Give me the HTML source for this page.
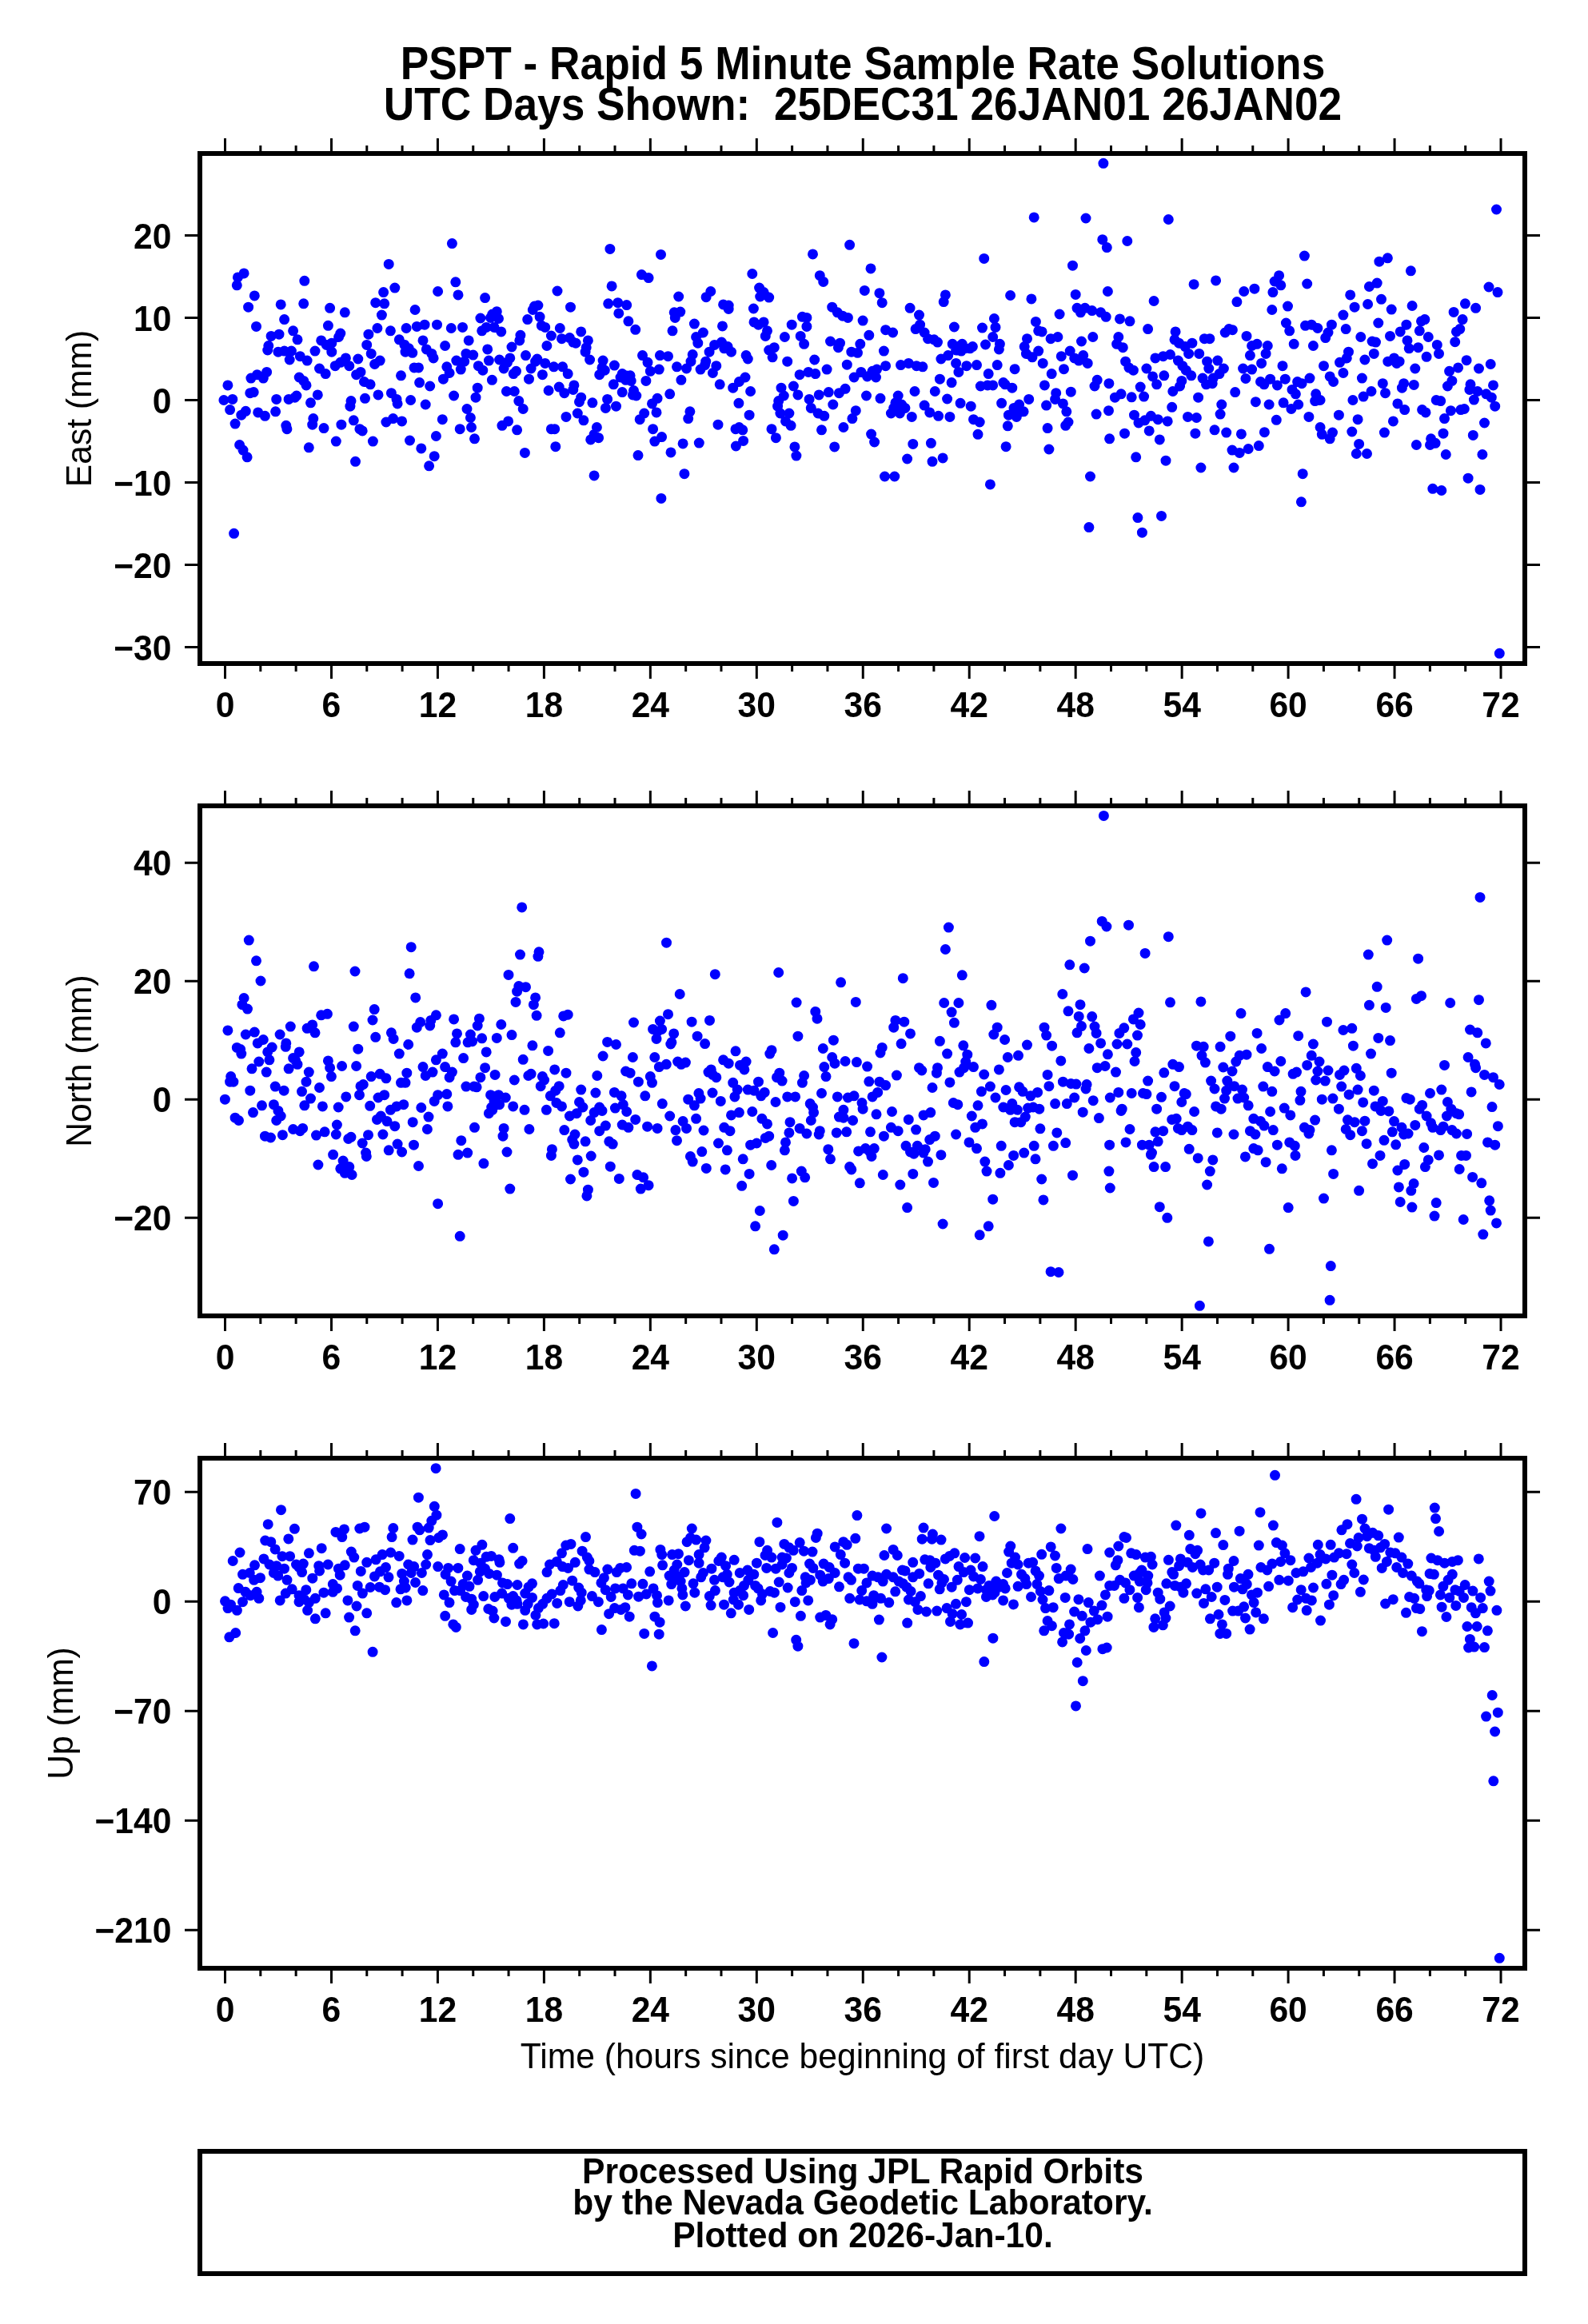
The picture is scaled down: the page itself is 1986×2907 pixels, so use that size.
<!DOCTYPE html><html><head><meta charset="utf-8"><style>html,body{margin:0;padding:0;background:#fff;width:1986px;height:2907px;overflow:hidden}svg{display:block;will-change:transform}text{font-family:"Liberation Sans",sans-serif;white-space:pre}</style></head><body>
<svg width="1986" height="2907" viewBox="0 0 1986 2907">
<rect width="1986" height="2907" fill="#fff"/>
<text transform="translate(1079 99.1) scale(1 1.075)" font-size="53.25" font-weight="bold" text-anchor="middle">PSPT - Rapid 5 Minute Sample Rate Solutions</text>
<text transform="translate(1079 150) scale(1 1.075)" font-size="53.25" font-weight="bold" text-anchor="middle">UTC Days Shown:  25DEC31 26JAN01 26JAN02</text>
<path d="M279.9 500.5h0M290.8 499.4h0M284.9 481.9h0M287.6 512.6h0M294.1 530.1h0M296.3 356.8h0M297.4 346.9h0M305.1 341.9h0M292.6 667.3h0M299.6 556.5h0M304.0 563.1h0M309.1 571.8h0M301.8 519.2h0M307.3 514.3h0M310.6 384.2h0M318.3 369.9h0M320.5 408.4h0M313.9 473.1h0M321.6 468.7h0M329.3 473.1h0M333.6 465.4h0M312.8 491.7h0M317.2 490.6h0M322.7 515.9h0M331.4 520.3h0M334.7 438.0h0M335.8 432.5h0M339.1 420.4h0M349.0 418.2h0M347.9 440.2h0M355.6 439.1h0M364.4 439.1h0M344.6 514.8h0M345.7 499.4h0M351.2 380.9h0M355.6 399.6h0M357.8 532.3h0M358.9 536.7h0M362.2 450.0h0M361.1 499.4h0M368.8 497.2h0M370.9 495.0h0M366.6 413.8h0M372.0 424.8h0M375.3 445.7h0M384.1 451.1h0M374.2 472.0h0M379.7 476.4h0M383.0 481.9h0M379.7 379.8h0M380.8 351.3h0M386.3 559.8h0M388.5 503.8h0M391.8 523.6h0M390.7 531.2h0M397.3 493.9h0M394.0 439.1h0M401.7 425.9h0M408.3 431.4h0M414.8 440.2h0M414.8 429.2h0M423.6 421.5h0M425.8 417.1h0M399.5 461.0h0M407.2 467.6h0M405.0 535.6h0M410.4 407.3h0M412.6 385.3h0M419.2 457.7h0M425.8 453.3h0M432.4 447.9h0M436.8 457.7h0M420.3 552.1h0M426.9 531.2h0M431.3 390.8h0M439.0 501.6h0M437.9 508.2h0M442.3 525.8h0M444.5 577.3h0M445.6 468.7h0M451.0 465.4h0M447.8 449.0h0M449.9 536.7h0M453.2 538.9h0M455.4 477.5h0M463.1 480.8h0M456.5 498.3h0M458.7 431.4h0M460.9 418.2h0M464.2 442.4h0M466.4 552.1h0M468.6 455.5h0M475.2 451.1h0M469.7 378.7h0M479.6 365.6h0M480.7 379.8h0M477.4 394.1h0M471.9 410.5h0M473.0 493.9h0M482.9 528.0h0M491.6 523.6h0M502.6 526.9h0M489.4 491.7h0M496.0 499.4h0M497.1 504.9h0M486.2 330.4h0M488.4 413.8h0M493.8 360.1h0M499.3 424.8h0M505.9 431.4h0M507.0 440.2h0M515.8 441.3h0M511.4 435.8h0M501.5 469.8h0M508.1 410.5h0M512.5 551.0h0M513.6 500.5h0M519.1 387.5h0M518.0 459.9h0M523.5 459.9h0M521.3 408.4h0M531.1 406.2h0M524.6 478.6h0M526.8 560.9h0M529.0 425.9h0M532.2 506.0h0M533.3 436.9h0M539.9 442.4h0M542.1 447.9h0M536.6 582.8h0M537.7 483.0h0M543.2 570.7h0M545.4 545.5h0M546.5 406.2h0M547.6 364.5h0M565.4 304.6h0M569.8 352.8h0M573.0 368.9h0M564.3 410.5h0M578.5 409.4h0M556.6 432.5h0M586.2 425.9h0M606.6 372.6h0M600.9 398.0h0M615.8 393.0h0M621.3 389.7h0M623.5 398.5h0M613.6 397.4h0M602.7 413.8h0M608.2 409.4h0M618.0 409.4h0M626.8 414.9h0M609.7 436.9h0M582.9 442.4h0M591.7 444.1h0M570.8 451.1h0M580.7 452.2h0M558.8 458.8h0M562.1 466.5h0M554.4 474.2h0M576.3 462.1h0M598.3 457.7h0M603.8 463.2h0M611.4 451.1h0M615.4 475.3h0M567.6 495.0h0M597.2 485.2h0M595.0 497.2h0M584.0 511.5h0M588.4 522.5h0M589.5 534.5h0M553.3 524.7h0M575.2 536.7h0M593.5 548.8h0M624.6 450.0h0M630.1 461.0h0M637.8 447.9h0M634.5 453.3h0M640.0 434.0h0M650.9 419.3h0M649.8 425.9h0M657.5 444.6h0M642.2 467.6h0M645.5 464.3h0M633.4 489.5h0M643.3 489.5h0M648.8 501.6h0M654.2 511.5h0M627.9 532.3h0M635.6 526.9h0M646.6 537.8h0M656.4 566.4h0M659.7 399.6h0M666.3 387.5h0M668.5 383.1h0M672.9 382.0h0M675.1 396.3h0M677.3 407.3h0M681.7 409.4h0M689.4 420.0h0M683.9 432.5h0M664.1 461.0h0M669.6 452.2h0M671.8 449.0h0M681.7 454.4h0M661.5 474.2h0M678.4 468.7h0M692.6 458.8h0M703.6 458.8h0M710.2 467.6h0M697.0 364.0h0M713.5 384.2h0M700.3 410.5h0M702.5 423.7h0M712.4 422.6h0M720.1 429.2h0M716.8 428.1h0M726.7 414.9h0M735.4 425.9h0M733.2 434.7h0M732.1 440.2h0M737.6 450.0h0M686.1 488.5h0M699.2 484.1h0M705.8 491.7h0M717.9 481.9h0M716.8 487.4h0M726.7 497.2h0M724.5 502.7h0M708.0 521.4h0M722.3 517.0h0M729.9 525.8h0M689.4 536.7h0M693.7 536.7h0M694.8 558.7h0M740.9 503.8h0M746.4 534.5h0M743.1 543.3h0M738.7 549.9h0M748.6 547.7h0M743.1 594.9h0M754.1 451.1h0M753.0 459.9h0M756.3 463.2h0M749.7 468.7h0M760.7 379.8h0M772.7 378.7h0M783.7 381.6h0M773.8 391.9h0M785.9 401.8h0M794.7 412.3h0M765.1 357.9h0M762.9 311.4h0M802.4 343.6h0M811.1 347.6h0M826.5 318.4h0M768.4 457.1h0M778.2 467.6h0M782.6 469.8h0M788.1 469.8h0M776.0 472.0h0M782.6 475.3h0M789.2 476.4h0M767.3 480.8h0M778.2 490.6h0M792.5 488.5h0M791.4 493.9h0M795.8 495.0h0M759.6 499.4h0M757.4 510.4h0M770.5 508.2h0M803.5 444.6h0M810.0 453.3h0M813.3 464.3h0M807.9 476.4h0M825.4 444.6h0M824.3 462.1h0M815.5 504.9h0M822.1 498.3h0M821.0 515.9h0M800.2 524.7h0M805.7 517.0h0M816.6 536.7h0M818.8 552.1h0M827.6 546.6h0M798.0 569.6h0M826.9 623.4h0M848.7 371.0h0M843.2 390.8h0M850.8 390.1h0M844.3 397.4h0M841.0 413.8h0M835.5 445.7h0M846.5 458.8h0M851.9 475.3h0M837.7 492.8h0M839.0 565.9h0M854.1 554.9h0M855.9 592.7h0M883.1 371.7h0M888.8 364.5h0M868.4 405.1h0M879.4 416.0h0M870.6 421.5h0M872.8 429.2h0M866.2 443.5h0M864.0 452.2h0M858.5 461.0h0M862.9 514.8h0M860.7 523.6h0M874.3 554.1h0M887.1 440.2h0M893.6 431.4h0M902.4 428.1h0M905.7 435.8h0M910.1 433.6h0M914.5 440.2h0M882.7 452.2h0M881.6 456.6h0M876.1 462.1h0M895.8 457.7h0M891.4 466.5h0M900.2 480.8h0M898.0 531.2h0M904.6 380.9h0M911.2 382.0h0M911.2 386.4h0M903.5 407.9h0M916.7 485.2h0M924.4 477.5h0M932.0 472.0h0M923.9 504.3h0M920.0 536.7h0M924.4 534.5h0M928.8 537.8h0M920.4 558.0h0M929.6 551.4h0M933.1 444.6h0M935.3 449.0h0M938.6 489.5h0M937.1 519.2h0M940.8 342.5h0M949.6 360.1h0M955.1 365.6h0M950.7 371.0h0M961.7 372.1h0M942.4 386.0h0M943.0 402.9h0M948.5 406.2h0M955.1 402.9h0M959.5 413.8h0M957.3 420.4h0M961.7 438.0h0M968.3 434.7h0M966.1 446.8h0M965.0 536.7h0M970.4 547.7h0M981.4 421.5h0M990.2 406.2h0M984.7 452.2h0M977.0 485.2h0M980.3 495.0h0M973.7 501.6h0M972.6 508.2h0M975.9 517.0h0M986.9 517.0h0M982.5 526.9h0M989.1 532.3h0M992.4 483.0h0M997.9 493.9h0M993.9 558.9h0M995.9 570.1h0M1003.4 396.3h0M1008.9 397.4h0M1008.9 408.4h0M1001.2 420.4h0M1005.6 430.3h0M1016.5 317.9h0M1025.3 344.7h0M1029.7 352.4h0M1018.7 450.0h0M1000.1 468.7h0M1011.0 465.4h0M1019.8 467.6h0M1012.1 499.4h0M1014.3 510.4h0M1023.1 517.0h0M1030.8 520.3h0M1024.2 493.9h0M1027.5 537.8h0M1034.1 462.1h0M1036.3 490.6h0M1041.8 506.0h0M1043.7 558.9h0M1040.7 384.2h0M1047.3 390.8h0M1053.8 395.2h0M1060.4 397.4h0M1038.5 427.0h0M1050.5 429.2h0M1048.4 434.7h0M1062.6 306.3h0M1089.0 335.9h0M1081.3 363.4h0M1099.9 366.7h0M1103.2 378.7h0M1079.1 401.1h0M1086.8 419.3h0M1075.8 430.3h0M1064.8 440.2h0M1072.5 441.3h0M1059.3 456.2h0M1068.1 472.0h0M1076.9 465.4h0M1084.6 470.9h0M1091.1 464.3h0M1096.6 462.1h0M1095.5 472.0h0M1049.4 491.7h0M1057.1 486.3h0M1070.3 513.7h0M1065.9 523.6h0M1054.9 534.5h0M1083.5 495.0h0M1101.0 498.3h0M1089.6 543.1h0M1093.6 553.0h0M1105.4 439.1h0M1107.6 412.7h0M1107.6 457.7h0M1106.5 596.0h0M1116.6 416.0h0M1114.4 517.0h0M1123.2 495.0h0M1119.9 503.8h0M1127.6 506.0h0M1131.9 510.4h0M1125.4 517.0h0M1117.7 510.4h0M1118.8 596.0h0M1138.1 385.3h0M1149.5 394.1h0M1150.6 406.2h0M1145.1 411.6h0M1156.1 416.0h0M1160.5 423.7h0M1168.2 424.8h0M1172.5 428.1h0M1126.5 456.6h0M1136.3 454.4h0M1146.2 457.7h0M1153.9 458.8h0M1144.0 489.5h0M1140.3 521.4h0M1156.1 507.1h0M1162.7 515.9h0M1173.6 520.3h0M1141.8 555.4h0M1134.6 574.0h0M1164.4 554.3h0M1166.0 577.3h0M1179.1 572.9h0M1182.4 368.9h0M1180.2 377.6h0M1193.4 409.0h0M1176.9 449.0h0M1185.7 444.6h0M1191.2 430.3h0M1197.8 433.6h0M1203.3 430.3h0M1206.6 435.8h0M1213.1 435.8h0M1216.4 433.6h0M1202.2 439.1h0M1195.6 438.0h0M1195.6 454.4h0M1198.9 465.4h0M1208.8 457.7h0M1175.4 474.2h0M1190.1 478.6h0M1169.3 489.5h0M1184.6 499.0h0M1187.9 521.4h0M1201.1 504.3h0M1214.2 508.2h0M1217.5 524.7h0M1225.2 528.0h0M1223.0 543.3h0M1221.5 456.6h0M1230.7 323.4h0M1228.5 410.1h0M1232.5 431.0h0M1241.7 421.5h0M1243.4 398.5h0M1245.0 409.4h0M1250.4 430.3h0M1249.4 436.9h0M1247.2 456.6h0M1236.2 467.6h0M1226.3 483.0h0M1235.1 481.9h0M1241.7 481.9h0M1254.8 478.6h0M1257.0 480.8h0M1265.8 485.2h0M1252.6 504.3h0M1263.6 369.5h0M1269.1 461.7h0M1268.0 510.4h0M1274.6 506.0h0M1280.1 514.8h0M1261.4 519.2h0M1271.3 521.4h0M1276.8 513.7h0M1260.3 532.8h0M1258.1 558.7h0M1238.4 605.9h0M1289.9 373.9h0M1293.2 271.9h0M1295.4 402.4h0M1298.7 413.8h0M1303.1 414.9h0M1284.5 423.7h0M1281.2 433.6h0M1283.4 442.4h0M1291.0 446.8h0M1298.7 439.1h0M1304.2 454.4h0M1286.7 499.4h0M1306.4 481.9h0M1315.2 467.6h0M1314.1 423.7h0M1322.9 421.5h0M1325.1 393.0h0M1327.3 445.7h0M1330.5 461.7h0M1308.6 507.1h0M1319.6 499.4h0M1320.7 491.7h0M1329.4 504.9h0M1333.8 514.8h0M1332.7 532.3h0M1336.0 528.0h0M1310.1 535.6h0M1311.9 562.0h0M1339.3 490.2h0M1341.5 332.2h0M1358.0 273.0h0M1345.2 368.4h0M1347.0 385.3h0M1351.4 390.8h0M1356.9 385.3h0M1365.7 388.6h0M1376.6 390.8h0M1383.2 396.3h0M1352.5 427.0h0M1366.8 421.5h0M1338.2 439.1h0M1343.7 447.9h0M1349.2 451.1h0M1354.7 444.6h0M1360.2 454.4h0M1369.0 483.0h0M1372.2 475.3h0M1371.1 518.1h0M1363.5 596.0h0M1361.9 659.6h0M1379.9 204.3h0M1378.8 299.7h0M1384.3 309.6h0M1385.4 364.5h0M1386.9 479.7h0M1386.5 513.7h0M1387.6 548.8h0M1409.8 301.5h0M1461.3 274.5h0M1443.1 376.5h0M1400.5 398.9h0M1413.0 401.8h0M1435.6 411.6h0M1398.8 421.5h0M1396.6 430.3h0M1404.3 434.7h0M1407.6 452.2h0M1411.9 459.9h0M1417.4 463.2h0M1433.9 461.0h0M1441.6 470.9h0M1446.6 480.8h0M1394.4 497.2h0M1402.1 492.8h0M1415.2 496.8h0M1426.2 484.1h0M1430.6 496.1h0M1418.5 519.2h0M1424.0 529.0h0M1431.7 525.8h0M1439.4 520.3h0M1448.2 524.7h0M1460.2 526.9h0M1406.5 542.2h0M1437.2 538.9h0M1450.3 549.9h0M1420.7 571.8h0M1458.0 576.2h0M1422.9 647.6h0M1428.4 666.2h0M1452.5 645.4h0M1444.9 447.9h0M1454.7 445.7h0M1463.5 443.5h0M1455.8 469.8h0M1470.1 414.9h0M1469.0 424.8h0M1474.5 429.2h0M1482.2 433.6h0M1490.9 429.2h0M1486.6 442.4h0M1473.4 451.1h0M1478.9 457.7h0M1483.3 463.2h0M1489.8 469.8h0M1477.8 476.4h0M1475.6 483.0h0M1466.8 489.5h0M1465.7 509.3h0M1485.5 521.4h0M1496.4 522.5h0M1494.9 542.2h0M1501.9 585.0h0M1493.1 355.7h0M1498.6 497.2h0M1499.7 442.4h0M1506.3 423.7h0M1512.9 423.7h0M1509.6 452.2h0M1511.8 461.0h0M1522.8 451.1h0M1530.4 461.0h0M1525.0 467.6h0M1517.3 473.1h0M1504.1 473.1h0M1508.5 480.8h0M1516.2 479.7h0M1520.6 350.9h0M1532.2 416.0h0M1537.0 411.6h0M1541.4 412.7h0M1527.8 506.0h0M1526.1 518.1h0M1519.0 537.8h0M1533.7 541.1h0M1541.0 563.1h0M1550.2 566.4h0M1561.2 561.5h0M1574.3 557.6h0M1543.0 585.0h0M1544.7 490.6h0M1546.9 377.6h0M1555.7 364.5h0M1568.9 361.2h0M1559.0 420.4h0M1565.6 432.5h0M1572.1 430.3h0M1563.4 444.6h0M1554.6 461.0h0M1565.6 462.1h0M1557.9 473.5h0M1552.4 542.9h0M1577.6 454.4h0M1585.3 432.5h0M1583.1 442.4h0M1576.5 477.5h0M1580.9 480.8h0M1588.6 474.2h0M1570.4 502.7h0M1587.1 506.0h0M1581.4 540.7h0M1596.3 525.3h0M1590.8 387.5h0M1591.9 365.6h0M1594.1 352.0h0M1599.6 344.7h0M1601.8 356.8h0M1610.5 383.1h0M1608.4 404.0h0M1612.7 413.8h0M1618.2 430.3h0M1604.0 457.7h0M1607.3 474.2h0M1597.4 481.9h0M1605.1 503.8h0M1616.0 487.4h0M1620.4 492.8h0M1622.6 477.5h0M1628.1 479.7h0M1614.9 511.5h0M1623.7 506.0h0M1631.4 320.1h0M1634.7 355.0h0M1632.5 407.3h0M1640.2 406.2h0M1647.9 410.5h0M1642.4 432.5h0M1638.0 473.1h0M1645.7 492.8h0M1644.6 501.6h0M1651.1 500.5h0M1636.9 521.4h0M1629.2 592.7h0M1627.4 627.8h0M1655.5 457.7h0M1657.7 422.6h0M1661.0 416.0h0M1665.4 406.2h0M1663.2 470.9h0M1667.6 477.5h0M1651.1 534.5h0M1653.3 543.3h0M1663.2 548.8h0M1666.5 541.1h0M1674.4 519.2h0M1675.5 453.3h0M1679.9 394.1h0M1683.2 411.6h0M1688.7 368.9h0M1694.1 384.2h0M1686.5 440.2h0M1684.3 447.9h0M1679.9 466.5h0M1701.8 421.5h0M1703.4 473.1h0M1706.9 450.0h0M1691.9 500.5h0M1705.1 496.1h0M1715.0 489.5h0M1698.1 524.7h0M1690.8 540.0h0M1699.6 555.4h0M1696.3 567.5h0M1709.5 567.5h0M1712.4 358.5h0M1722.2 354.1h0M1724.9 327.2h0M1735.4 322.8h0M1710.6 380.5h0M1727.5 374.3h0M1723.8 404.0h0M1716.1 427.0h0M1720.5 428.1h0M1718.3 442.4h0M1729.3 479.7h0M1732.5 491.7h0M1731.4 541.1h0M1740.2 387.1h0M1738.5 420.4h0M1735.8 452.2h0M1743.5 447.9h0M1746.8 454.4h0M1750.1 452.2h0M1742.4 526.9h0M1747.9 504.9h0M1753.4 485.2h0M1755.6 479.7h0M1756.7 512.6h0M1751.2 414.9h0M1758.9 406.2h0M1760.0 425.9h0M1762.2 435.8h0M1773.6 434.7h0M1764.4 338.8h0M1766.1 382.5h0M1775.3 413.8h0M1777.5 401.8h0M1781.9 399.6h0M1786.3 421.5h0M1769.8 461.0h0M1768.3 481.4h0M1778.6 512.6h0M1783.0 515.9h0M1771.4 556.5h0M1784.1 446.3h0M1797.3 431.4h0M1799.5 442.4h0M1789.6 548.8h0M1788.5 556.5h0M1795.1 554.3h0M1796.2 500.5h0M1801.7 501.6h0M1791.8 611.3h0M1802.8 613.5h0M1806.5 523.6h0M1805.0 542.2h0M1808.3 568.5h0M1810.4 483.0h0M1815.9 476.4h0M1812.6 464.3h0M1814.4 513.7h0M1818.1 390.4h0M1819.7 427.7h0M1821.4 414.9h0M1825.8 411.6h0M1829.1 399.6h0M1832.4 379.8h0M1845.6 385.3h0M1823.6 459.9h0M1834.1 450.7h0M1826.9 512.6h0M1831.3 511.5h0M1842.3 544.4h0M1836.1 598.2h0M1851.0 612.4h0M1839.0 480.8h0M1837.9 487.4h0M1847.8 489.5h0M1843.4 500.1h0M1849.5 461.0h0M1856.5 529.0h0M1853.9 568.5h0M1862.0 359.0h0M1873.0 365.6h0M1871.5 262.0h0M1864.2 455.5h0M1867.5 481.9h0M1858.7 492.8h0M1865.3 497.2h0M1869.7 508.2h0M1875.3 817.3h0" stroke="#0000ff" stroke-width="13" stroke-linecap="round" fill="none"/>
<path d="M281.50 189v-16M281.50 833v16M325.82 189v-7M325.82 833v7M370.14 189v-7M370.14 833v7M414.46 189v-16M414.46 833v16M458.78 189v-7M458.78 833v7M503.10 189v-7M503.10 833v7M547.42 189v-16M547.42 833v16M591.74 189v-7M591.74 833v7M636.06 189v-7M636.06 833v7M680.38 189v-16M680.38 833v16M724.70 189v-7M724.70 833v7M769.02 189v-7M769.02 833v7M813.34 189v-16M813.34 833v16M857.66 189v-7M857.66 833v7M901.98 189v-7M901.98 833v7M946.30 189v-16M946.30 833v16M990.62 189v-7M990.62 833v7M1034.94 189v-7M1034.94 833v7M1079.26 189v-16M1079.26 833v16M1123.58 189v-7M1123.58 833v7M1167.90 189v-7M1167.90 833v7M1212.22 189v-16M1212.22 833v16M1256.54 189v-7M1256.54 833v7M1300.86 189v-7M1300.86 833v7M1345.18 189v-16M1345.18 833v16M1389.50 189v-7M1389.50 833v7M1433.82 189v-7M1433.82 833v7M1478.14 189v-16M1478.14 833v16M1522.46 189v-7M1522.46 833v7M1566.78 189v-7M1566.78 833v7M1611.10 189v-16M1611.10 833v16M1655.42 189v-7M1655.42 833v7M1699.74 189v-7M1699.74 833v7M1744.06 189v-16M1744.06 833v16M1788.38 189v-7M1788.38 833v7M1832.70 189v-7M1832.70 833v7M1877.02 189v-16M1877.02 833v16M247 294.46h-16M1910 294.46h16M247 397.48h-16M1910 397.48h16M247 500.50h-16M1910 500.50h16M247 603.52h-16M1910 603.52h16M247 706.54h-16M1910 706.54h16M247 809.56h-16M1910 809.56h16" stroke="#000" stroke-width="3" fill="none"/>
<rect x="250" y="192" width="1657" height="638" fill="none" stroke="#000" stroke-width="6"/>
<text transform="translate(214.4 310.5) scale(1 1.05)" font-size="42.6" font-weight="bold" text-anchor="end">20</text>
<text transform="translate(214.4 413.5) scale(1 1.05)" font-size="42.6" font-weight="bold" text-anchor="end">10</text>
<text transform="translate(214.4 516.5) scale(1 1.05)" font-size="42.6" font-weight="bold" text-anchor="end">0</text>
<text transform="translate(214.4 619.5) scale(1 1.05)" font-size="42.6" font-weight="bold" text-anchor="end">−10</text>
<text transform="translate(214.4 722.5) scale(1 1.05)" font-size="42.6" font-weight="bold" text-anchor="end">−20</text>
<text transform="translate(214.4 825.6) scale(1 1.05)" font-size="42.6" font-weight="bold" text-anchor="end">−30</text>
<text transform="translate(281.5 897) scale(1 1.05)" font-size="42.6" font-weight="bold" text-anchor="middle">0</text>
<text transform="translate(414.46 897) scale(1 1.05)" font-size="42.6" font-weight="bold" text-anchor="middle">6</text>
<text transform="translate(547.42 897) scale(1 1.05)" font-size="42.6" font-weight="bold" text-anchor="middle">12</text>
<text transform="translate(680.38 897) scale(1 1.05)" font-size="42.6" font-weight="bold" text-anchor="middle">18</text>
<text transform="translate(813.34 897) scale(1 1.05)" font-size="42.6" font-weight="bold" text-anchor="middle">24</text>
<text transform="translate(946.3 897) scale(1 1.05)" font-size="42.6" font-weight="bold" text-anchor="middle">30</text>
<text transform="translate(1079.26 897) scale(1 1.05)" font-size="42.6" font-weight="bold" text-anchor="middle">36</text>
<text transform="translate(1212.22 897) scale(1 1.05)" font-size="42.6" font-weight="bold" text-anchor="middle">42</text>
<text transform="translate(1345.18 897) scale(1 1.05)" font-size="42.6" font-weight="bold" text-anchor="middle">48</text>
<text transform="translate(1478.14 897) scale(1 1.05)" font-size="42.6" font-weight="bold" text-anchor="middle">54</text>
<text transform="translate(1611.1 897) scale(1 1.05)" font-size="42.6" font-weight="bold" text-anchor="middle">60</text>
<text transform="translate(1744.06 897) scale(1 1.05)" font-size="42.6" font-weight="bold" text-anchor="middle">66</text>
<text transform="translate(1877.02 897) scale(1 1.05)" font-size="42.6" font-weight="bold" text-anchor="middle">72</text>
<text transform="translate(114 511.0) rotate(-90) scale(1 1.03)" font-size="42.6" text-anchor="middle">East (mm)</text>
<path d="M311.3 1176.1h0M320.5 1201.8h0M326.0 1227.0h0M305.1 1248.5h0M302.9 1256.7h0M309.5 1262.1h0M284.9 1288.9h0M307.3 1294.0h0M318.3 1291.1h0M296.3 1310.4h0M300.7 1312.6h0M301.8 1318.1h0M322.2 1304.9h0M329.3 1300.5h0M334.7 1315.9h0M340.2 1310.0h0M336.9 1325.8h0M323.8 1328.0h0M315.0 1336.8h0M333.2 1341.1h0M288.7 1346.6h0M287.6 1353.2h0M291.9 1353.2h0M281.4 1375.2h0M312.8 1364.2h0M294.1 1398.2h0M298.5 1401.5h0M316.5 1391.6h0M327.5 1382.8h0M331.4 1421.2h0M338.5 1423.0h0M342.4 1381.7h0M347.9 1389.4h0M351.2 1396.0h0M345.7 1401.5h0M353.4 1419.7h0M344.2 1359.1h0M355.1 1364.2h0M350.1 1294.0h0M363.3 1284.1h0M357.8 1304.9h0M357.3 1309.3h0M361.1 1336.8h0M366.6 1323.6h0M374.2 1315.9h0M372.0 1331.3h0M369.8 1326.9h0M366.6 1412.5h0M378.6 1411.4h0M375.3 1414.7h0M377.5 1365.3h0M383.0 1353.2h0M386.3 1341.1h0M388.5 1374.1h0M380.8 1382.8h0M392.5 1208.8h0M384.1 1286.3h0M390.7 1281.9h0M394.0 1291.8h0M401.7 1269.8h0M409.4 1268.3h0M399.5 1360.5h0M403.4 1383.9h0M395.5 1420.1h0M406.1 1415.8h0M397.9 1457.0h0M410.4 1326.9h0M412.6 1335.7h0M414.4 1346.6h0M427.6 1333.5h0M423.2 1385.0h0M421.4 1407.0h0M420.3 1419.0h0M416.6 1444.3h0M429.1 1452.0h0M425.8 1461.8h0M431.3 1467.3h0M436.8 1459.6h0M440.1 1469.5h0M435.7 1424.5h0M439.0 1422.3h0M432.8 1371.9h0M444.0 1215.0h0M442.3 1284.1h0M447.8 1312.2h0M445.6 1333.5h0M464.2 1346.6h0M454.3 1356.5h0M451.0 1358.7h0M449.5 1369.7h0M453.2 1430.0h0M457.6 1442.1h0M458.3 1446.5h0M460.5 1419.7h0M462.7 1383.3h0M468.2 1262.6h0M466.0 1276.0h0M469.7 1297.3h0M475.2 1343.3h0M482.9 1348.8h0M473.0 1373.0h0M480.7 1369.7h0M471.5 1400.4h0M476.3 1396.0h0M484.0 1402.6h0M493.8 1408.7h0M478.9 1419.0h0M486.2 1438.8h0M497.1 1431.1h0M502.6 1441.0h0M489.4 1291.8h0M492.1 1299.4h0M499.3 1318.1h0M510.7 1306.5h0M508.8 1342.2h0M501.5 1354.3h0M507.0 1354.3h0M488.4 1388.3h0M496.0 1383.9h0M504.8 1381.7h0M516.2 1403.7h0M517.5 1432.2h0M523.5 1458.5h0M514.2 1184.7h0M512.1 1217.8h0M519.7 1247.9h0M521.3 1285.2h0M525.7 1278.6h0M537.7 1283.0h0M538.8 1276.4h0M545.4 1269.8h0M529.0 1334.6h0M532.2 1345.5h0M541.0 1341.1h0M526.8 1385.5h0M536.0 1397.1h0M534.4 1412.5h0M545.4 1325.8h0M543.2 1377.4h0M547.6 1369.7h0M547.6 1505.7h0M553.3 1318.1h0M556.6 1334.6h0M565.4 1341.1h0M562.1 1347.7h0M558.8 1368.6h0M559.9 1383.9h0M567.6 1274.9h0M571.5 1292.9h0M569.8 1303.8h0M588.4 1294.0h0M585.1 1303.8h0M590.6 1302.7h0M599.4 1274.2h0M597.2 1283.0h0M602.7 1298.8h0M608.2 1315.9h0M579.6 1323.6h0M606.6 1335.7h0M600.9 1347.7h0M582.9 1359.1h0M592.8 1359.1h0M596.1 1359.8h0M593.5 1410.3h0M576.8 1426.7h0M573.0 1444.3h0M584.7 1442.1h0M604.9 1455.3h0M575.2 1546.3h0M626.8 1281.5h0M621.3 1298.4h0M640.0 1294.6h0M619.1 1344.4h0M613.6 1369.7h0M623.5 1369.7h0M632.3 1373.0h0M618.0 1377.4h0M624.6 1381.7h0M614.7 1385.0h0M611.4 1392.7h0M615.8 1388.3h0M641.7 1383.9h0M630.1 1411.4h0M629.0 1421.2h0M634.0 1441.0h0M637.8 1487.1h0M652.7 1134.9h0M650.5 1194.1h0M674.0 1190.8h0M672.9 1196.3h0M636.0 1219.4h0M648.8 1233.6h0M657.5 1234.7h0M646.6 1240.2h0M645.0 1253.4h0M669.6 1247.9h0M667.4 1256.7h0M671.1 1270.3h0M665.9 1307.8h0M654.2 1325.3h0M643.3 1351.0h0M660.8 1345.5h0M664.1 1343.3h0M656.0 1388.3h0M661.9 1412.5h0M685.6 1314.4h0M678.4 1346.6h0M680.6 1351.0h0M676.2 1358.7h0M693.7 1337.9h0M708.0 1342.2h0M699.2 1358.7h0M694.8 1364.2h0M688.3 1370.8h0M695.9 1379.5h0M702.5 1383.9h0M683.4 1388.3h0M690.4 1437.7h0M689.4 1445.4h0M704.7 1270.9h0M710.2 1269.2h0M700.3 1291.8h0M726.7 1363.1h0M724.5 1378.5h0M728.9 1385.0h0M712.4 1396.0h0M721.2 1392.7h0M705.8 1413.6h0M719.0 1419.0h0M715.7 1425.6h0M717.9 1431.1h0M732.1 1427.8h0M722.3 1450.9h0M739.2 1446.0h0M729.9 1466.2h0M713.5 1475.0h0M735.4 1488.2h0M733.9 1495.9h0M754.1 1321.0h0M759.6 1303.4h0M770.5 1306.5h0M746.8 1345.5h0M744.9 1367.0h0M738.7 1401.5h0M743.1 1391.6h0M749.7 1385.0h0M753.0 1389.4h0M749.7 1414.7h0M757.4 1408.1h0M761.8 1427.8h0M766.2 1431.1h0M763.3 1459.2h0M774.3 1474.4h0M768.4 1366.4h0M777.1 1370.8h0M769.4 1386.1h0M779.3 1381.7h0M783.7 1390.5h0M778.2 1407.0h0M785.9 1410.3h0M794.7 1400.4h0M792.5 1279.0h0M791.4 1322.5h0M782.6 1340.0h0M788.1 1342.2h0M798.4 1353.2h0M796.9 1469.5h0M804.6 1472.8h0M811.1 1482.7h0M801.3 1487.1h0M809.6 1409.2h0M822.1 1411.4h0M806.8 1370.8h0M813.3 1346.6h0M815.5 1354.3h0M818.8 1322.5h0M824.3 1334.6h0M816.6 1287.4h0M822.1 1290.7h0M827.6 1287.4h0M821.0 1299.4h0M825.4 1277.1h0M828.3 1380.6h0M833.5 1179.2h0M835.5 1268.7h0M833.3 1331.3h0M850.2 1243.5h0M865.1 1278.2h0M887.5 1276.4h0M894.3 1218.7h0M842.7 1292.9h0M839.9 1303.8h0M838.8 1306.0h0M872.1 1296.2h0M881.6 1305.6h0M847.6 1328.0h0M851.9 1331.3h0M857.4 1329.1h0M837.7 1396.0h0M844.9 1413.6h0M846.5 1426.7h0M854.1 1402.6h0M858.5 1411.4h0M860.7 1375.2h0M868.4 1382.8h0M873.9 1367.5h0M876.1 1374.1h0M870.6 1399.3h0M880.0 1414.0h0M863.4 1446.5h0M866.2 1453.1h0M877.8 1440.6h0M883.3 1461.4h0M886.0 1341.1h0M889.3 1337.9h0M895.8 1347.7h0M891.4 1344.4h0M891.0 1367.0h0M901.3 1377.4h0M904.6 1325.8h0M911.2 1330.2h0M920.0 1314.8h0M925.5 1332.4h0M933.1 1328.0h0M930.9 1337.9h0M916.7 1354.3h0M922.2 1363.1h0M918.9 1371.9h0M935.3 1363.1h0M943.0 1364.2h0M948.5 1353.2h0M905.7 1410.3h0M913.0 1414.7h0M914.5 1394.9h0M924.4 1391.6h0M898.5 1430.0h0M909.4 1438.8h0M907.2 1462.9h0M929.2 1449.8h0M937.1 1468.4h0M927.7 1483.3h0M940.8 1390.5h0M952.9 1399.3h0M959.5 1405.9h0M938.6 1432.2h0M946.3 1430.0h0M957.3 1423.4h0M961.7 1421.2h0M951.8 1370.8h0M956.2 1366.4h0M973.7 1216.5h0M965.0 1313.7h0M962.8 1318.1h0M974.8 1342.2h0M971.5 1347.7h0M978.1 1352.1h0M970.0 1378.5h0M984.7 1371.9h0M994.6 1371.9h0M988.0 1403.7h0M986.9 1416.9h0M982.5 1428.9h0M981.4 1438.8h0M964.7 1457.5h0M990.6 1473.9h0M1002.3 1465.1h0M1006.7 1472.8h0M992.4 1502.4h0M950.3 1514.5h0M944.6 1533.8h0M979.2 1545.2h0M968.3 1562.8h0M996.1 1254.0h0M997.9 1296.2h0M1005.6 1345.5h0M1003.4 1354.3h0M1000.1 1411.4h0M1008.9 1418.0h0M1013.2 1380.6h0M1016.5 1385.0h0M1017.6 1391.6h0M1014.3 1401.5h0M1019.8 1265.4h0M1022.0 1274.2h0M1027.5 1367.5h0M1025.3 1414.7h0M1024.2 1419.0h0M1029.3 1311.5h0M1042.4 1301.2h0M1040.7 1322.5h0M1044.0 1330.2h0M1030.8 1334.6h0M1033.0 1346.6h0M1057.1 1327.5h0M1051.6 1228.8h0M1070.3 1253.4h0M1071.4 1328.6h0M1084.6 1334.1h0M1086.8 1352.8h0M1099.9 1353.2h0M1107.6 1357.6h0M1047.3 1371.9h0M1060.4 1373.0h0M1068.1 1370.8h0M1078.0 1379.5h0M1079.1 1387.2h0M1054.9 1388.3h0M1049.4 1397.1h0M1054.9 1398.2h0M1066.6 1401.5h0M1046.2 1416.9h0M1058.7 1415.8h0M1035.8 1437.7h0M1038.5 1449.8h0M1062.6 1459.6h0M1064.8 1462.9h0M1075.3 1479.8h0M1073.6 1439.9h0M1082.4 1436.6h0M1087.9 1441.0h0M1093.3 1436.6h0M1090.0 1446.5h0M1088.5 1415.8h0M1096.0 1393.8h0M1091.1 1371.9h0M1097.7 1366.4h0M1103.2 1310.4h0M1101.0 1317.0h0M1105.4 1421.2h0M1104.3 1469.5h0M1115.5 1390.5h0M1114.4 1410.3h0M1123.2 1414.7h0M1129.3 1223.7h0M1119.9 1276.4h0M1117.7 1285.2h0M1130.8 1278.2h0M1138.5 1292.9h0M1127.1 1305.6h0M1121.4 1345.1h0M1149.5 1335.7h0M1152.8 1339.0h0M1136.3 1400.4h0M1145.6 1413.1h0M1133.0 1433.3h0M1138.5 1441.0h0M1142.9 1443.2h0M1147.3 1433.3h0M1157.2 1437.7h0M1155.0 1442.1h0M1162.7 1425.6h0M1169.3 1421.2h0M1155.0 1394.9h0M1163.8 1391.6h0M1160.5 1453.1h0M1176.9 1444.7h0M1141.8 1468.4h0M1125.8 1482.0h0M1167.5 1479.4h0M1134.6 1510.6h0M1186.4 1160.1h0M1182.4 1187.5h0M1203.3 1219.8h0M1180.7 1254.5h0M1198.9 1254.5h0M1190.1 1266.1h0M1193.4 1279.3h0M1175.4 1302.3h0M1184.6 1318.1h0M1166.0 1360.5h0M1172.5 1335.7h0M1171.4 1342.2h0M1187.9 1353.9h0M1192.3 1379.5h0M1197.8 1381.7h0M1195.6 1419.0h0M1204.8 1307.8h0M1209.8 1319.2h0M1207.7 1328.0h0M1205.5 1335.7h0M1200.0 1341.1h0M1217.5 1334.6h0M1179.1 1531.0h0M1215.3 1396.0h0M1223.0 1382.8h0M1219.7 1410.3h0M1228.5 1405.9h0M1212.0 1428.9h0M1221.5 1436.6h0M1230.7 1344.0h0M1239.9 1257.3h0M1247.2 1285.2h0M1242.8 1294.0h0M1256.6 1300.5h0M1260.3 1322.5h0M1273.5 1320.3h0M1249.4 1337.9h0M1227.4 1365.3h0M1238.4 1359.1h0M1245.0 1373.0h0M1258.1 1363.5h0M1254.8 1385.0h0M1265.8 1380.6h0M1263.6 1388.3h0M1272.4 1388.3h0M1231.8 1453.1h0M1234.0 1465.1h0M1252.2 1433.3h0M1250.9 1467.3h0M1267.6 1445.4h0M1261.4 1457.5h0M1241.7 1500.2h0M1236.2 1533.8h0M1225.2 1544.8h0M1284.5 1307.1h0M1274.6 1359.8h0M1279.0 1365.3h0M1288.9 1370.8h0M1297.6 1366.4h0M1285.6 1386.1h0M1292.1 1385.0h0M1299.8 1387.2h0M1282.3 1397.1h0M1269.1 1403.7h0M1276.8 1403.7h0M1300.9 1411.8h0M1280.7 1442.1h0M1293.2 1433.3h0M1295.0 1449.8h0M1302.7 1475.0h0M1304.9 1500.9h0M1306.0 1285.2h0M1308.6 1295.1h0M1315.6 1308.2h0M1310.1 1344.4h0M1311.9 1358.7h0M1326.8 1326.9h0M1319.6 1380.6h0M1321.8 1416.9h0M1317.4 1433.3h0M1332.7 1429.6h0M1334.3 1380.6h0M1343.7 1373.0h0M1329.4 1353.2h0M1339.3 1355.4h0M1345.9 1356.1h0M1359.1 1356.5h0M1358.0 1362.0h0M1354.2 1391.2h0M1367.2 1376.7h0M1374.4 1398.6h0M1341.5 1470.2h0M1328.8 1243.5h0M1337.8 1206.8h0M1356.2 1211.0h0M1363.5 1177.2h0M1378.2 1152.4h0M1383.9 1159.0h0M1336.0 1264.8h0M1351.0 1256.7h0M1349.2 1271.4h0M1352.5 1283.6h0M1347.0 1291.8h0M1365.7 1271.6h0M1369.0 1284.1h0M1371.1 1292.4h0M1361.9 1311.5h0M1376.6 1304.9h0M1385.4 1318.8h0M1372.2 1335.7h0M1382.1 1333.5h0M1387.6 1432.2h0M1386.9 1465.1h0M1388.3 1373.0h0M1388.3 1486.0h0M1314.1 1590.7h0M1324.0 1591.5h0M1398.8 1366.4h0M1395.5 1341.1h0M1411.5 1157.2h0M1461.3 1171.7h0M1432.1 1192.4h0M1463.5 1253.8h0M1501.9 1252.9h0M1424.0 1267.0h0M1417.4 1274.9h0M1426.2 1281.5h0M1405.8 1285.8h0M1399.9 1292.4h0M1422.5 1295.1h0M1397.0 1306.0h0M1409.8 1306.0h0M1420.7 1316.6h0M1419.0 1327.5h0M1435.6 1352.1h0M1415.2 1367.5h0M1429.5 1367.5h0M1433.9 1368.6h0M1403.2 1387.2h0M1402.1 1389.4h0M1413.0 1412.5h0M1408.0 1428.9h0M1428.4 1432.2h0M1437.2 1432.2h0M1440.5 1442.1h0M1439.4 1444.3h0M1448.2 1427.8h0M1444.9 1415.8h0M1454.7 1414.7h0M1443.1 1459.6h0M1457.6 1459.6h0M1450.3 1509.7h0M1459.8 1523.3h0M1446.6 1387.2h0M1452.5 1372.3h0M1455.8 1341.8h0M1466.8 1331.3h0M1474.5 1334.6h0M1469.0 1358.7h0M1481.1 1367.5h0M1483.3 1368.6h0M1477.8 1378.5h0M1465.7 1400.4h0M1471.2 1399.3h0M1473.4 1411.4h0M1477.8 1413.6h0M1485.5 1409.2h0M1490.9 1413.6h0M1493.6 1390.5h0M1487.2 1437.3h0M1498.2 1448.7h0M1516.8 1450.9h0M1513.3 1465.1h0M1509.6 1482.0h0M1511.4 1552.9h0M1496.4 1308.2h0M1505.2 1309.3h0M1503.0 1320.3h0M1507.4 1329.1h0M1514.6 1352.1h0M1519.0 1362.0h0M1520.6 1383.9h0M1527.2 1387.2h0M1522.3 1416.9h0M1526.1 1309.3h0M1538.8 1296.2h0M1529.8 1335.0h0M1541.0 1340.0h0M1534.8 1352.1h0M1543.6 1358.7h0M1533.7 1364.2h0M1531.5 1374.1h0M1553.5 1363.1h0M1548.0 1374.1h0M1555.7 1373.0h0M1561.2 1382.8h0M1550.2 1320.3h0M1559.0 1319.2h0M1545.8 1328.0h0M1552.0 1267.6h0M1543.0 1419.0h0M1572.1 1292.4h0M1577.6 1311.5h0M1585.3 1334.6h0M1594.1 1340.0h0M1579.8 1359.1h0M1590.8 1365.3h0M1588.6 1390.5h0M1567.8 1399.3h0M1576.5 1402.6h0M1580.9 1408.1h0M1563.4 1414.7h0M1569.9 1419.0h0M1592.3 1413.6h0M1567.8 1436.6h0M1573.2 1438.8h0M1557.4 1446.9h0M1583.1 1453.7h0M1597.4 1432.2h0M1603.3 1461.8h0M1587.5 1562.3h0M1600.0 1276.0h0M1607.7 1267.6h0M1623.7 1295.7h0M1601.8 1327.5h0M1617.1 1343.3h0M1621.5 1341.1h0M1606.2 1386.1h0M1613.8 1394.9h0M1612.7 1428.9h0M1619.3 1433.3h0M1620.0 1445.4h0M1627.0 1365.3h0M1625.9 1376.3h0M1633.1 1240.9h0M1642.4 1306.0h0M1640.2 1320.3h0M1634.7 1332.4h0M1650.0 1328.0h0M1647.9 1340.0h0M1661.0 1339.0h0M1645.7 1351.0h0M1657.3 1352.1h0M1653.3 1375.2h0M1644.6 1401.1h0M1631.4 1410.3h0M1638.0 1413.6h0M1636.9 1418.0h0M1659.5 1278.2h0M1611.2 1510.6h0M1655.5 1499.1h0M1665.4 1438.8h0M1666.9 1374.1h0M1667.6 1468.4h0M1664.3 1583.6h0M1674.4 1387.2h0M1675.5 1344.4h0M1681.0 1339.0h0M1677.7 1359.1h0M1687.1 1369.2h0M1679.9 1288.5h0M1690.8 1286.3h0M1692.4 1308.2h0M1696.3 1336.3h0M1701.4 1345.5h0M1698.1 1363.1h0M1704.7 1378.9h0M1685.4 1400.8h0M1694.1 1403.7h0M1706.9 1402.2h0M1683.2 1412.5h0M1688.7 1419.7h0M1703.4 1414.7h0M1709.1 1430.7h0M1699.6 1489.3h0M1711.3 1194.1h0M1734.7 1176.1h0M1722.2 1234.3h0M1712.4 1257.3h0M1733.2 1260.4h0M1723.8 1298.4h0M1738.5 1301.6h0M1714.5 1318.1h0M1740.2 1342.2h0M1718.3 1364.2h0M1720.0 1383.9h0M1727.1 1389.4h0M1729.3 1377.4h0M1736.9 1389.9h0M1743.5 1402.6h0M1741.3 1415.8h0M1753.0 1410.3h0M1755.6 1419.0h0M1761.1 1418.0h0M1731.0 1426.3h0M1745.7 1431.8h0M1726.0 1445.4h0M1716.5 1455.7h0M1747.9 1464.0h0M1756.7 1456.4h0M1749.4 1484.9h0M1751.2 1503.5h0M1764.8 1489.3h0M1768.1 1480.5h0M1765.9 1510.1h0M1773.6 1199.2h0M1771.4 1249.4h0M1777.5 1245.7h0M1758.9 1373.6h0M1763.3 1375.2h0M1778.6 1382.4h0M1775.3 1387.2h0M1769.8 1407.4h0M1784.1 1396.0h0M1789.6 1404.8h0M1791.8 1410.3h0M1780.8 1435.5h0M1786.3 1450.9h0M1782.4 1459.6h0M1788.5 1367.5h0M1794.0 1521.1h0M1796.2 1504.6h0M1799.5 1444.9h0M1802.8 1363.1h0M1806.5 1332.4h0M1810.4 1378.5h0M1809.4 1396.0h0M1814.8 1387.2h0M1821.4 1392.7h0M1824.7 1393.8h0M1801.7 1413.6h0M1805.0 1409.2h0M1815.9 1413.6h0M1821.4 1418.0h0M1834.6 1418.4h0M1813.7 1254.5h0M1827.6 1445.4h0M1833.5 1445.4h0M1825.2 1462.5h0M1830.2 1525.5h0M1841.6 1472.4h0M1852.8 1479.8h0M1838.5 1288.0h0M1847.8 1291.8h0M1858.3 1304.9h0M1836.1 1322.5h0M1844.5 1331.3h0M1845.6 1335.7h0M1856.5 1344.4h0M1867.5 1347.7h0M1875.2 1356.5h0M1840.1 1365.9h0M1849.5 1250.7h0M1851.0 1122.4h0M1866.0 1384.6h0M1873.4 1408.7h0M1860.5 1428.9h0M1869.7 1432.2h0M1862.7 1501.8h0M1864.2 1514.1h0M1871.5 1529.9h0M1854.8 1544.1h0M1380.4 1020.4h0M1663.1 1626.3h0M1500.4 1633.3h0" stroke="#0000ff" stroke-width="13" stroke-linecap="round" fill="none"/>
<path d="M281.50 1005v-16M281.50 1649v16M325.82 1005v-7M325.82 1649v7M370.14 1005v-7M370.14 1649v7M414.46 1005v-16M414.46 1649v16M458.78 1005v-7M458.78 1649v7M503.10 1005v-7M503.10 1649v7M547.42 1005v-16M547.42 1649v16M591.74 1005v-7M591.74 1649v7M636.06 1005v-7M636.06 1649v7M680.38 1005v-16M680.38 1649v16M724.70 1005v-7M724.70 1649v7M769.02 1005v-7M769.02 1649v7M813.34 1005v-16M813.34 1649v16M857.66 1005v-7M857.66 1649v7M901.98 1005v-7M901.98 1649v7M946.30 1005v-16M946.30 1649v16M990.62 1005v-7M990.62 1649v7M1034.94 1005v-7M1034.94 1649v7M1079.26 1005v-16M1079.26 1649v16M1123.58 1005v-7M1123.58 1649v7M1167.90 1005v-7M1167.90 1649v7M1212.22 1005v-16M1212.22 1649v16M1256.54 1005v-7M1256.54 1649v7M1300.86 1005v-7M1300.86 1649v7M1345.18 1005v-16M1345.18 1649v16M1389.50 1005v-7M1389.50 1649v7M1433.82 1005v-7M1433.82 1649v7M1478.14 1005v-16M1478.14 1649v16M1522.46 1005v-7M1522.46 1649v7M1566.78 1005v-7M1566.78 1649v7M1611.10 1005v-16M1611.10 1649v16M1655.42 1005v-7M1655.42 1649v7M1699.74 1005v-7M1699.74 1649v7M1744.06 1005v-16M1744.06 1649v16M1788.38 1005v-7M1788.38 1649v7M1832.70 1005v-7M1832.70 1649v7M1877.02 1005v-16M1877.02 1649v16M247 1079.20h-16M1910 1079.20h16M247 1227.20h-16M1910 1227.20h16M247 1375.20h-16M1910 1375.20h16M247 1523.20h-16M1910 1523.20h16" stroke="#000" stroke-width="3" fill="none"/>
<rect x="250" y="1008" width="1657" height="638" fill="none" stroke="#000" stroke-width="6"/>
<text transform="translate(214.4 1095.2) scale(1 1.05)" font-size="42.6" font-weight="bold" text-anchor="end">40</text>
<text transform="translate(214.4 1243.2) scale(1 1.05)" font-size="42.6" font-weight="bold" text-anchor="end">20</text>
<text transform="translate(214.4 1391.2) scale(1 1.05)" font-size="42.6" font-weight="bold" text-anchor="end">0</text>
<text transform="translate(214.4 1539.2) scale(1 1.05)" font-size="42.6" font-weight="bold" text-anchor="end">−20</text>
<text transform="translate(281.5 1713) scale(1 1.05)" font-size="42.6" font-weight="bold" text-anchor="middle">0</text>
<text transform="translate(414.46 1713) scale(1 1.05)" font-size="42.6" font-weight="bold" text-anchor="middle">6</text>
<text transform="translate(547.42 1713) scale(1 1.05)" font-size="42.6" font-weight="bold" text-anchor="middle">12</text>
<text transform="translate(680.38 1713) scale(1 1.05)" font-size="42.6" font-weight="bold" text-anchor="middle">18</text>
<text transform="translate(813.34 1713) scale(1 1.05)" font-size="42.6" font-weight="bold" text-anchor="middle">24</text>
<text transform="translate(946.3 1713) scale(1 1.05)" font-size="42.6" font-weight="bold" text-anchor="middle">30</text>
<text transform="translate(1079.26 1713) scale(1 1.05)" font-size="42.6" font-weight="bold" text-anchor="middle">36</text>
<text transform="translate(1212.22 1713) scale(1 1.05)" font-size="42.6" font-weight="bold" text-anchor="middle">42</text>
<text transform="translate(1345.18 1713) scale(1 1.05)" font-size="42.6" font-weight="bold" text-anchor="middle">48</text>
<text transform="translate(1478.14 1713) scale(1 1.05)" font-size="42.6" font-weight="bold" text-anchor="middle">54</text>
<text transform="translate(1611.1 1713) scale(1 1.05)" font-size="42.6" font-weight="bold" text-anchor="middle">60</text>
<text transform="translate(1744.06 1713) scale(1 1.05)" font-size="42.6" font-weight="bold" text-anchor="middle">66</text>
<text transform="translate(1877.02 1713) scale(1 1.05)" font-size="42.6" font-weight="bold" text-anchor="middle">72</text>
<text transform="translate(114 1327.0) rotate(-90) scale(1 1.03)" font-size="42.6" text-anchor="middle">North (mm)</text>
<path d="M351.5 1888.7h0M335.2 1906.7h0M368.4 1912.3h0M360.8 1924.9h0M331.7 1927.0h0M338.8 1928.7h0M344.1 1937.9h0M300.0 1942.0h0M291.2 1952.5h0M352.9 1946.7h0M362.6 1946.7h0M386.4 1942.8h0M402.2 1936.7h0M318.5 1957.8h0M329.9 1949.9h0M337.0 1957.0h0M345.8 1958.7h0M355.5 1962.2h0M303.5 1969.3h0M312.3 1967.5h0M317.6 1976.3h0M325.5 1973.7h0M342.3 1967.5h0M347.6 1971.1h0M359.0 1976.3h0M370.5 1957.0h0M379.3 1956.1h0M377.6 1966.6h0M374.0 1960.5h0M398.7 1958.7h0M399.6 1964.9h0M410.2 1957.0h0M390.8 1974.2h0M298.2 1986.6h0M307.0 1991.3h0M313.2 1995.7h0M321.1 1991.3h0M323.8 1999.3h0M281.5 2002.8h0M288.5 2007.2h0M285.0 2011.6h0M296.4 2014.3h0M303.5 2003.7h0M350.2 2001.9h0M357.3 1993.1h0M365.2 1987.8h0M374.0 1995.7h0M382.8 1988.7h0M374.0 2003.7h0M380.2 2000.2h0M386.4 2004.6h0M394.3 1999.3h0M384.6 2014.3h0M394.3 2024.8h0M407.2 2017.8h0M404.9 1992.2h0M416.3 1981.6h0M421.6 1986.9h0M416.3 1991.3h0M425.2 1970.2h0M431.3 1957.8h0M423.4 1962.2h0M419.9 1916.4h0M430.5 1912.9h0M427.8 1922.6h0M449.8 1912.0h0M456.0 1910.2h0M439.3 1941.1h0M442.8 1948.1h0M451.3 1965.4h0M447.2 1983.4h0M453.4 1993.1h0M434.9 2001.9h0M446.0 2009.0h0M436.6 2023.1h0M458.7 2017.8h0M444.2 2039.8h0M466.1 2066.3h0M286.8 2047.8h0M294.7 2042.5h0M458.7 1954.3h0M470.1 1950.8h0M478.1 1944.6h0M488.6 1942.0h0M499.2 1946.4h0M463.1 1985.5h0M468.4 1971.9h0M475.4 1965.8h0M482.5 1960.5h0M486.0 1972.8h0M474.5 1985.2h0M481.6 1988.7h0M491.8 1911.5h0M490.1 1922.6h0M516.0 1926.1h0M523.4 1873.2h0M522.1 1910.2h0M524.8 1913.8h0M502.7 1968.4h0M510.7 1957.0h0M517.7 1959.6h0M514.2 1967.5h0M505.4 1978.1h0M501.0 1987.8h0M507.2 1986.0h0M519.5 1979.5h0M495.7 2004.6h0M508.9 2001.9h0M528.8 1989.6h0M534.5 1944.6h0M532.7 1957.0h0M527.4 1967.5h0M536.2 1911.1h0M539.8 1902.3h0M545.9 1895.2h0M538.0 1926.6h0M543.3 1884.3h0M545.1 1836.7h0M547.7 1959.6h0M548.6 1923.5h0M553.5 1919.9h0M560.6 1961.4h0M575.2 1937.6h0M572.9 1961.4h0M557.1 1969.3h0M564.1 1978.1h0M595.0 1939.3h0M602.9 1932.3h0M592.3 1951.7h0M601.1 1955.2h0M608.2 1947.3h0M614.4 1946.4h0M624.1 1950.8h0M624.9 1954.3h0M606.4 1962.2h0M600.3 1965.8h0M611.7 1968.4h0M621.4 1970.2h0M597.6 1976.3h0M584.4 1971.1h0M579.1 1981.6h0M587.0 1984.3h0M568.5 1989.6h0M575.6 1989.6h0M582.6 1997.5h0M589.7 2000.2h0M592.3 2007.2h0M589.7 2013.4h0M555.3 1994.9h0M562.0 2004.6h0M556.7 2021.3h0M566.8 2031.9h0M570.3 2035.4h0M604.7 1996.6h0M610.8 2012.5h0M616.1 2015.1h0M617.9 2024.0h0M618.8 1997.5h0M627.6 1993.1h0M636.4 1999.3h0M641.7 1996.6h0M646.1 2001.9h0M639.9 2007.2h0M647.0 2006.3h0M628.5 1979.9h0M634.6 1981.6h0M647.0 1982.5h0M632.5 2028.4h0M637.8 1899.6h0M641.7 1936.3h0M649.6 1956.1h0M653.1 1952.5h0M665.5 1980.8h0M661.1 1985.2h0M656.7 1993.1h0M665.5 1998.4h0M660.2 2006.3h0M656.7 2014.3h0M654.4 2031.9h0M669.9 2020.4h0M673.4 2011.6h0M678.7 2006.3h0M684.0 1999.3h0M690.2 1994.0h0M671.7 2031.9h0M679.6 2031.0h0M693.2 2030.7h0M696.7 2005.4h0M700.8 1989.6h0M704.3 1982.5h0M684.0 1966.6h0M687.5 1957.0h0M696.3 1953.4h0M703.4 1959.6h0M710.5 1961.4h0M702.5 1942.8h0M707.8 1933.1h0M714.0 1931.4h0M719.3 1954.3h0M715.7 1977.2h0M723.7 1986.0h0M727.2 1992.2h0M726.3 2001.9h0M712.2 2003.7h0M722.8 2009.0h0M728.1 1940.2h0M734.3 1948.1h0M736.9 1952.5h0M732.5 1922.6h0M736.9 1963.1h0M744.0 1966.6h0M740.4 1996.6h0M748.4 2003.7h0M751.9 1979.9h0M755.4 1973.7h0M757.2 1988.7h0M759.8 1963.1h0M771.3 1966.6h0M775.7 1961.4h0M783.6 1960.5h0M764.2 1997.5h0M769.5 1986.9h0M779.2 1986.9h0M785.4 1994.9h0M789.8 1980.8h0M761.6 2018.7h0M768.6 2011.6h0M776.6 2013.4h0M781.9 2010.7h0M787.2 2022.2h0M752.4 2038.6h0M795.1 1868.4h0M796.9 1910.2h0M802.1 1919.0h0M793.3 1939.3h0M800.4 1940.2h0M812.7 1965.8h0M803.9 1981.3h0M798.6 1997.2h0M808.3 1994.0h0M817.1 1986.9h0M821.5 1995.7h0M822.4 2004.6h0M818.9 2022.2h0M825.1 2029.2h0M805.7 2043.4h0M824.2 2044.2h0M815.4 2083.9h0M825.9 1938.4h0M827.7 1944.6h0M828.6 1957.8h0M836.2 2001.9h0M865.3 1912.0h0M859.1 1928.7h0M863.5 1923.5h0M870.6 1926.1h0M882.9 1927.0h0M881.1 1935.8h0M840.6 1944.6h0M848.5 1943.7h0M861.4 1951.7h0M874.1 1944.6h0M874.1 1955.2h0M846.8 1957.0h0M843.2 1964.0h0M856.1 1966.6h0M837.1 1971.1h0M839.7 1981.6h0M845.9 1971.1h0M851.2 1978.1h0M852.9 1986.9h0M853.8 1994.9h0M867.0 1980.8h0M868.8 1992.2h0M857.3 2009.0h0M879.4 1967.5h0M876.7 1972.8h0M889.9 1962.2h0M893.5 1976.3h0M898.8 1952.5h0M902.3 1948.1h0M907.6 1958.7h0M909.3 1969.3h0M904.1 1972.8h0M912.0 1979.0h0M918.2 1951.3h0M894.4 1989.6h0M887.3 1996.6h0M889.1 2008.1h0M905.5 2007.2h0M914.3 2017.8h0M925.2 1967.5h0M934.9 1964.0h0M942.8 1969.3h0M935.8 1976.3h0M930.5 1983.4h0M925.2 1989.6h0M918.2 1992.2h0M917.3 2001.0h0M929.6 1995.7h0M923.5 2007.2h0M936.7 2013.4h0M944.6 1983.4h0M948.1 1986.9h0M953.4 1994.0h0M951.7 2001.9h0M963.1 1990.5h0M968.4 1992.2h0M946.4 1955.2h0M949.9 1928.7h0M959.6 1939.3h0M957.0 1945.5h0M964.9 1948.1h0M958.7 1961.4h0M970.2 1962.2h0M978.1 1948.1h0M983.4 1949.0h0M978.1 1957.0h0M990.5 1961.4h0M986.9 1967.5h0M974.2 1979.0h0M985.2 1986.0h0M976.0 2010.4h0M966.6 2042.5h0M971.9 1904.4h0M980.8 1931.4h0M986.9 1935.8h0M992.2 1939.3h0M1000.2 1929.6h0M1005.4 1940.2h0M1016.0 1941.1h0M1022.2 1918.2h0M1020.4 1923.5h0M1012.5 1956.1h0M1016.9 1961.4h0M1007.2 1972.8h0M1013.4 1976.3h0M1008.1 1979.9h0M1002.8 1989.6h0M994.3 2003.7h0M1010.7 2001.9h0M1001.4 2021.3h0M995.7 2051.3h0M997.9 2059.2h0M1030.1 1956.1h0M1037.2 1960.5h0M1044.2 1967.5h0M1029.2 1978.1h0M1036.3 1974.6h0M1025.7 1970.2h0M1025.7 2023.1h0M1032.8 2020.4h0M1040.7 2025.7h0M1038.1 2031.9h0M1044.2 1934.9h0M1054.8 1928.7h0M1059.2 1932.3h0M1051.3 1944.6h0M1056.6 1955.2h0M1049.5 1984.8h0M1061.0 1972.8h0M1064.5 1976.3h0M1069.8 1924.3h0M1071.9 1895.6h0M1068.0 2055.7h0M1073.3 1962.2h0M1080.4 1962.2h0M1083.9 1979.9h0M1091.0 1971.1h0M1098.0 1972.8h0M1104.2 1978.1h0M1077.7 1989.6h0M1062.7 1999.3h0M1075.1 2001.0h0M1083.9 2002.8h0M1092.7 1995.7h0M1101.5 1999.3h0M1091.0 2006.3h0M1099.4 2026.1h0M1102.9 2073.0h0M1105.9 1945.5h0M1108.6 1912.0h0M1108.6 1969.3h0M1111.8 2004.6h0M1117.1 1938.4h0M1122.3 1945.5h0M1128.5 1964.0h0M1132.0 1964.9h0M1141.7 1954.3h0M1117.1 1972.8h0M1124.1 1978.1h0M1129.4 1980.8h0M1133.8 1985.2h0M1139.1 1990.5h0M1119.7 1990.8h0M1136.4 2001.0h0M1144.4 2003.7h0M1151.4 1996.6h0M1147.9 2013.4h0M1134.7 2030.1h0M1155.0 1911.1h0M1153.2 1925.2h0M1166.4 1919.0h0M1165.5 1925.2h0M1177.0 1926.1h0M1156.7 1950.8h0M1162.9 1951.7h0M1169.9 1955.2h0M1163.8 1960.5h0M1141.7 1972.8h0M1149.7 1968.4h0M1161.1 1980.8h0M1173.5 1970.2h0M1180.5 1975.5h0M1177.9 1979.9h0M1175.2 1987.8h0M1182.3 1949.9h0M1187.6 1946.4h0M1193.8 1942.8h0M1158.5 2016.0h0M1171.7 2015.1h0M1184.1 2011.6h0M1191.1 2018.7h0M1188.5 2028.4h0M1195.5 2006.3h0M1208.4 2003.7h0M1202.6 2019.5h0M1200.8 2031.9h0M1210.5 2030.1h0M1199.0 1959.6h0M1205.2 1966.6h0M1197.3 1976.3h0M1190.2 1985.2h0M1206.6 1948.5h0M1219.7 1949.0h0M1214.0 1964.0h0M1217.6 1971.9h0M1226.4 1975.5h0M1212.3 1988.7h0M1222.8 1986.9h0M1229.0 1959.6h0M1225.0 1921.7h0M1243.7 1896.5h0M1233.4 1988.7h0M1237.0 1983.4h0M1233.4 1997.5h0M1241.4 1994.9h0M1245.8 1978.1h0M1249.3 1985.2h0M1254.6 1981.6h0M1257.2 1986.9h0M1254.6 2001.9h0M1244.0 1992.2h0M1241.9 2049.2h0M1230.8 2078.6h0M1267.5 2006.9h0M1259.5 1967.5h0M1263.8 1934.0h0M1261.6 1941.1h0M1269.6 1948.1h0M1265.2 1955.2h0M1273.1 1957.0h0M1277.5 1969.3h0M1273.1 1984.3h0M1283.7 1981.6h0M1281.9 1974.6h0M1286.3 1955.2h0M1291.6 1954.3h0M1295.1 1964.9h0M1299.5 1971.1h0M1296.9 1981.6h0M1301.3 1990.5h0M1311.9 1989.6h0M1289.5 1997.5h0M1304.0 2001.0h0M1307.5 2011.6h0M1317.2 2010.7h0M1310.1 2027.5h0M1315.4 2033.7h0M1305.7 2039.8h0M1302.7 1944.3h0M1314.2 1934.9h0M1319.5 1946.0h0M1326.9 1912.0h0M1321.2 1961.4h0M1324.2 1974.6h0M1333.0 1971.1h0M1339.2 1963.1h0M1341.9 1975.5h0M1332.2 1998.4h0M1348.9 2000.7h0M1337.5 2031.9h0M1330.4 2042.5h0M1336.6 2044.2h0M1328.6 2053.9h0M1343.6 2016.0h0M1353.3 2021.3h0M1361.3 2004.6h0M1368.3 2015.1h0M1372.7 2025.7h0M1363.9 2029.2h0M1356.9 2039.8h0M1350.7 2049.5h0M1358.3 2064.5h0M1347.2 2079.5h0M1360.0 1937.6h0M1375.4 1971.1h0M1382.4 1994.9h0M1378.0 2008.1h0M1385.1 2022.2h0M1378.9 2062.7h0M1384.2 2061.0h0M1387.7 1942.0h0M1387.7 1983.4h0M1398.8 1934.0h0M1405.9 1922.6h0M1408.5 1923.5h0M1397.9 1951.7h0M1395.3 1957.8h0M1414.7 1942.8h0M1420.9 1944.6h0M1432.3 1948.1h0M1439.4 1947.3h0M1441.1 1957.0h0M1400.6 1976.3h0M1407.6 1979.9h0M1412.9 1988.7h0M1418.2 1971.1h0M1425.3 1967.5h0M1427.9 1964.0h0M1435.8 1971.1h0M1435.0 1979.9h0M1425.3 1978.1h0M1393.5 1983.4h0M1433.2 1988.7h0M1405.9 1999.3h0M1422.6 1998.4h0M1424.4 2010.7h0M1448.2 1992.2h0M1450.8 2000.2h0M1463.2 2009.0h0M1456.1 2016.9h0M1457.9 2024.0h0M1444.7 2024.8h0M1442.9 2035.4h0M1454.4 2032.8h0M1461.4 1951.3h0M1465.8 1966.6h0M1467.6 1969.3h0M1458.8 1980.8h0M1469.3 1983.4h0M1476.4 1985.2h0M1483.5 1980.8h0M1479.9 1992.2h0M1470.8 1908.1h0M1487.3 1920.3h0M1502.0 1892.9h0M1476.4 1949.9h0M1474.6 1958.7h0M1485.2 1954.3h0M1491.4 1960.5h0M1488.7 1937.6h0M1497.6 1939.3h0M1494.9 1943.7h0M1501.1 1957.0h0M1504.6 1964.0h0M1511.7 1964.0h0M1518.7 1955.2h0M1496.7 1993.1h0M1507.8 1987.8h0M1515.2 1997.5h0M1505.5 2005.4h0M1522.2 1985.2h0M1520.5 1917.6h0M1529.8 1932.6h0M1531.9 2001.4h0M1524.0 2019.5h0M1513.4 2024.8h0M1528.4 2031.9h0M1525.8 2043.4h0M1533.7 2043.4h0M1543.0 1952.5h0M1536.3 1962.2h0M1535.5 1969.3h0M1550.1 1915.2h0M1551.3 1974.6h0M1561.0 1969.3h0M1543.4 1985.2h0M1554.0 1987.8h0M1559.3 1981.6h0M1565.4 1994.9h0M1572.5 1992.2h0M1568.1 2004.6h0M1555.7 2009.8h0M1541.6 2015.1h0M1548.7 2015.1h0M1557.5 2024.0h0M1570.7 2016.9h0M1580.4 2024.8h0M1563.1 2038.1h0M1576.0 1891.7h0M1574.3 1933.1h0M1592.4 1908.1h0M1594.5 1845.3h0M1596.3 1929.6h0M1603.4 1933.1h0M1606.9 1942.8h0M1576.9 1960.5h0M1584.8 1964.0h0M1591.0 1956.1h0M1601.6 1953.4h0M1613.9 1951.7h0M1586.6 1984.3h0M1599.8 1976.3h0M1611.3 1977.2h0M1621.0 1967.5h0M1629.8 1965.8h0M1639.5 1960.5h0M1636.9 1949.0h0M1647.4 1955.2h0M1627.2 1988.7h0M1622.7 2001.0h0M1633.3 1999.3h0M1640.4 2001.9h0M1616.6 2010.7h0M1634.2 2014.3h0M1642.5 1986.0h0M1651.5 2027.1h0M1648.3 1932.3h0M1651.0 1944.6h0M1658.0 1949.9h0M1664.2 1932.3h0M1658.9 1981.3h0M1665.9 1970.2h0M1662.4 2007.2h0M1667.7 1995.7h0M1668.6 1948.1h0M1674.4 1942.8h0M1696.1 1875.3h0M1736.6 1888.2h0M1703.5 1900.2h0M1677.9 1913.8h0M1685.0 1906.7h0M1707.0 1912.0h0M1716.7 1917.3h0M1723.8 1920.8h0M1699.1 1923.5h0M1709.7 1921.7h0M1688.5 1930.5h0M1697.3 1934.0h0M1684.1 1943.7h0M1712.3 1936.7h0M1718.5 1939.3h0M1726.4 1935.8h0M1731.7 1931.4h0M1720.3 1947.3h0M1738.8 1942.0h0M1744.9 1942.8h0M1752.9 1948.1h0M1760.8 1956.1h0M1746.7 1960.5h0M1754.6 1967.5h0M1734.4 1953.4h0M1728.2 1961.4h0M1765.2 1971.1h0M1772.3 1978.1h0M1774.9 1980.8h0M1749.3 1923.1h0M1690.8 1957.0h0M1693.8 1967.5h0M1705.3 1976.0h0M1680.6 1976.3h0M1677.1 1981.6h0M1701.4 1991.3h0M1732.6 2006.0h0M1742.3 2000.7h0M1762.6 1997.5h0M1768.7 1999.3h0M1771.4 2011.6h0M1775.8 2012.5h0M1758.5 2017.3h0M1783.7 1988.7h0M1787.3 1989.6h0M1784.6 1996.6h0M1778.4 2040.7h0M1794.3 1886.1h0M1795.5 1899.6h0M1799.6 1915.5h0M1789.9 1949.0h0M1797.8 1951.7h0M1806.6 1955.2h0M1816.3 1953.4h0M1823.4 1951.7h0M1788.1 1968.4h0M1793.4 1969.3h0M1816.3 1969.3h0M1811.1 1976.3h0M1804.9 1984.3h0M1801.4 1994.9h0M1812.8 1998.4h0M1803.1 2010.2h0M1808.9 2022.5h0M1819.9 1988.7h0M1825.2 1990.5h0M1832.2 1982.5h0M1830.5 1998.4h0M1820.8 2008.4h0M1841.9 1990.1h0M1849.3 1949.9h0M1851.6 1998.4h0M1854.3 2011.6h0M1840.2 2010.7h0M1845.4 2017.8h0M1862.2 1978.1h0M1864.0 1990.1h0M1871.9 2014.3h0M1834.9 2034.5h0M1847.2 2034.5h0M1860.4 2039.8h0M1838.4 2050.4h0M1836.6 2061.0h0M1843.7 2060.1h0M1856.5 2060.6h0M1866.2 2120.5h0M1858.6 2147.1h0M1873.3 2142.2h0M1869.6 2166.0h0M1867.8 2227.8h0M1875.3 2449.3h0M1354.3 2102.7h0M1345.5 2133.9h0" stroke="#0000ff" stroke-width="13" stroke-linecap="round" fill="none"/>
<path d="M281.50 1821v-16M281.50 2465v16M325.82 1821v-7M325.82 2465v7M370.14 1821v-7M370.14 2465v7M414.46 1821v-16M414.46 2465v16M458.78 1821v-7M458.78 2465v7M503.10 1821v-7M503.10 2465v7M547.42 1821v-16M547.42 2465v16M591.74 1821v-7M591.74 2465v7M636.06 1821v-7M636.06 2465v7M680.38 1821v-16M680.38 2465v16M724.70 1821v-7M724.70 2465v7M769.02 1821v-7M769.02 2465v7M813.34 1821v-16M813.34 2465v16M857.66 1821v-7M857.66 2465v7M901.98 1821v-7M901.98 2465v7M946.30 1821v-16M946.30 2465v16M990.62 1821v-7M990.62 2465v7M1034.94 1821v-7M1034.94 2465v7M1079.26 1821v-16M1079.26 2465v16M1123.58 1821v-7M1123.58 2465v7M1167.90 1821v-7M1167.90 2465v7M1212.22 1821v-16M1212.22 2465v16M1256.54 1821v-7M1256.54 2465v7M1300.86 1821v-7M1300.86 2465v7M1345.18 1821v-16M1345.18 2465v16M1389.50 1821v-7M1389.50 2465v7M1433.82 1821v-7M1433.82 2465v7M1478.14 1821v-16M1478.14 2465v16M1522.46 1821v-7M1522.46 2465v7M1566.78 1821v-7M1566.78 2465v7M1611.10 1821v-16M1611.10 2465v16M1655.42 1821v-7M1655.42 2465v7M1699.74 1821v-7M1699.74 2465v7M1744.06 1821v-16M1744.06 2465v16M1788.38 1821v-7M1788.38 2465v7M1832.70 1821v-7M1832.70 2465v7M1877.02 1821v-16M1877.02 2465v16M247 1866.21h-16M1910 1866.21h16M247 2003.20h-16M1910 2003.20h16M247 2140.19h-16M1910 2140.19h16M247 2277.18h-16M1910 2277.18h16M247 2414.17h-16M1910 2414.17h16" stroke="#000" stroke-width="3" fill="none"/>
<rect x="250" y="1824" width="1657" height="638" fill="none" stroke="#000" stroke-width="6"/>
<text transform="translate(214.4 1882.2) scale(1 1.05)" font-size="42.6" font-weight="bold" text-anchor="end">70</text>
<text transform="translate(214.4 2019.2) scale(1 1.05)" font-size="42.6" font-weight="bold" text-anchor="end">0</text>
<text transform="translate(214.4 2156.2) scale(1 1.05)" font-size="42.6" font-weight="bold" text-anchor="end">−70</text>
<text transform="translate(214.4 2293.2) scale(1 1.05)" font-size="42.6" font-weight="bold" text-anchor="end">−140</text>
<text transform="translate(214.4 2430.2) scale(1 1.05)" font-size="42.6" font-weight="bold" text-anchor="end">−210</text>
<text transform="translate(281.5 2529) scale(1 1.05)" font-size="42.6" font-weight="bold" text-anchor="middle">0</text>
<text transform="translate(414.46 2529) scale(1 1.05)" font-size="42.6" font-weight="bold" text-anchor="middle">6</text>
<text transform="translate(547.42 2529) scale(1 1.05)" font-size="42.6" font-weight="bold" text-anchor="middle">12</text>
<text transform="translate(680.38 2529) scale(1 1.05)" font-size="42.6" font-weight="bold" text-anchor="middle">18</text>
<text transform="translate(813.34 2529) scale(1 1.05)" font-size="42.6" font-weight="bold" text-anchor="middle">24</text>
<text transform="translate(946.3 2529) scale(1 1.05)" font-size="42.6" font-weight="bold" text-anchor="middle">30</text>
<text transform="translate(1079.26 2529) scale(1 1.05)" font-size="42.6" font-weight="bold" text-anchor="middle">36</text>
<text transform="translate(1212.22 2529) scale(1 1.05)" font-size="42.6" font-weight="bold" text-anchor="middle">42</text>
<text transform="translate(1345.18 2529) scale(1 1.05)" font-size="42.6" font-weight="bold" text-anchor="middle">48</text>
<text transform="translate(1478.14 2529) scale(1 1.05)" font-size="42.6" font-weight="bold" text-anchor="middle">54</text>
<text transform="translate(1611.1 2529) scale(1 1.05)" font-size="42.6" font-weight="bold" text-anchor="middle">60</text>
<text transform="translate(1744.06 2529) scale(1 1.05)" font-size="42.6" font-weight="bold" text-anchor="middle">66</text>
<text transform="translate(1877.02 2529) scale(1 1.05)" font-size="42.6" font-weight="bold" text-anchor="middle">72</text>
<text transform="translate(91 2143.0) rotate(-90) scale(1 1.03)" font-size="42.6" text-anchor="middle">Up (mm)</text>
<text transform="translate(1078.5 2587) scale(1 1.03)" font-size="42.6" text-anchor="middle">Time (hours since beginning of first day UTC)</text>
<rect x="250" y="2691" width="1657" height="153" fill="none" stroke="#000" stroke-width="6"/>
<text transform="translate(1079 2730.5) scale(1 1.05)" font-size="42.6" font-weight="bold" text-anchor="middle">Processed Using JPL Rapid Orbits</text>
<text transform="translate(1079 2769.8) scale(1 1.05)" font-size="42.6" font-weight="bold" text-anchor="middle">by the Nevada Geodetic Laboratory.</text>
<text transform="translate(1079 2811) scale(1 1.05)" font-size="42.6" font-weight="bold" text-anchor="middle">Plotted on 2026-Jan-10.</text>
</svg></body></html>
